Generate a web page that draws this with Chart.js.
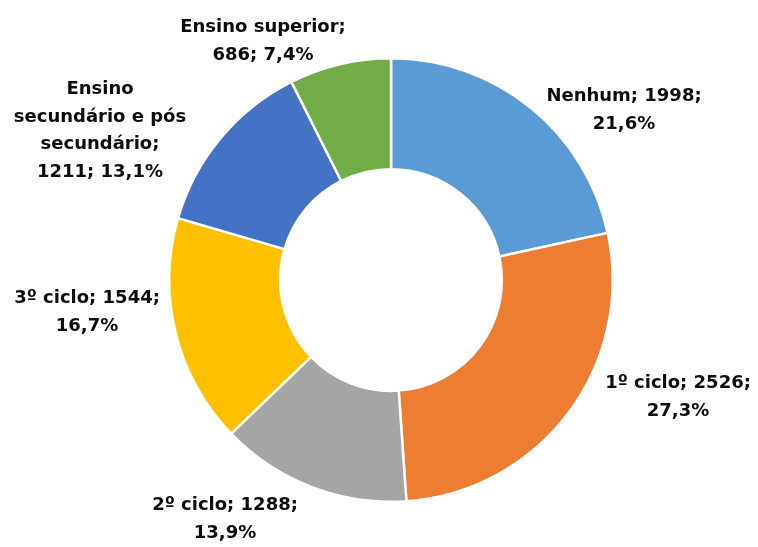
<!DOCTYPE html>
<html>
<head>
<meta charset="utf-8">
<script src="https://cdn.jsdelivr.net/npm/chart.js@4"></script>
<style>
  html, body { margin: 0; padding: 0; background: #fff; }
  #wrap { position: relative; width: 758px; height: 547px; }
</style>
</head>
<body>
<div id="wrap"><canvas id="c" width="758" height="547"></canvas></div>
<script>
// ---- data ----
const categories = ["Nenhum", "1º ciclo", "2º ciclo", "3º ciclo", "Ensino secundário e pós secundário", "Ensino superior"];
const values = [1998, 2526, 1288, 1544, 1211, 686];
const colors = ["#5B9BD5", "#ED7D31", "#A5A5A5", "#FFC000", "#4472C4", "#70AD47"];

// ---- label layout (words per line, block offset from chart centre) ----
const wordsPerLine = [[2, 1], [3, 1], [3, 1], [3, 1], [1, 3, 1, 2], [2, 2]];
const labelOffsets = [[233, -179], [287, 108], [-166, 230], [-304, 23], [-291, -186], [-128, -248]];
const LABEL_FONT = 'bold 18px "DejaVu Sans"';
const LINE_H = 27.5;

const total = values.reduce((a, b) => a + b, 0);
function labelLines(i) {
  const pct = (values[i] / total * 100).toFixed(1).replace('.', ',');
  const words = (categories[i] + '; ' + values[i] + '; ' + pct + '%').split(' ');
  const lines = [];
  let k = 0;
  for (const n of wordsPerLine[i]) { lines.push(words.slice(k, k + n).join(' ')); k += n; }
  return lines;
}

const labelPlugin = {
  id: 'outerLabels',
  afterDraw(chart) {
    const meta = chart.getDatasetMeta(0);
    const arc0 = meta.data[0];
    const cx = arc0.x, cy = arc0.y;
    const ctx = chart.ctx;
    ctx.save();
    ctx.font = LABEL_FONT;
    ctx.fillStyle = '#0d0d0d';
    ctx.textAlign = 'center';
    ctx.textBaseline = 'alphabetic';
    meta.data.forEach((arc, i) => {
      const lines = labelLines(i);
      const [dx, dy] = labelOffsets[i];
      lines.forEach((t, j) => ctx.fillText(t, cx + dx, cy + dy + j * LINE_H));
    });
    ctx.restore();
  }
};

new Chart(document.getElementById('c'), {
  type: 'doughnut',
  data: {
    labels: categories,
    datasets: [{ data: values, backgroundColor: colors, borderColor: '#ffffff', borderWidth: 2.5, hoverOffset: 0 }]
  },
  options: {
    responsive: false,
    animation: false,
    cutout: '50%',
    layout: { padding: { left: 168, right: 144, top: 57, bottom: 44 } },
    plugins: { legend: { display: false }, tooltip: { enabled: false } }
  },
  plugins: [labelPlugin]
});
</script>
</body>
</html>
